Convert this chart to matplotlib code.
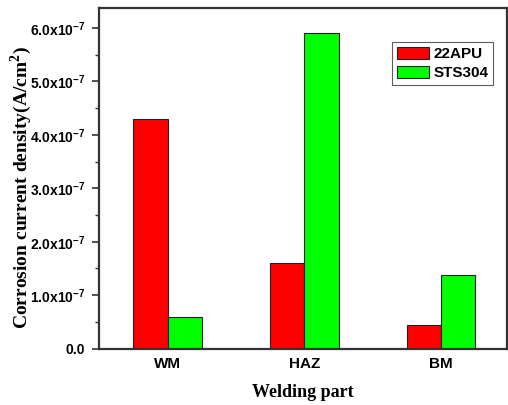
import numpy as np
import matplotlib.pyplot as plt
from matplotlib.ticker import FuncFormatter, MultipleLocator

plt.rcParams["mathtext.fontset"] = "custom"
plt.rcParams["mathtext.rm"] = "Liberation Sans:bold"
plt.rcParams["mathtext.it"] = "Liberation Sans:bold"
plt.rcParams["mathtext.sf"] = "Liberation Sans:bold"
plt.rcParams["mathtext.bf"] = "Liberation Serif:bold"

parts = ["WM", "HAZ", "BM"]
apu22 = [4.3e-7, 1.6e-7, 0.45e-7]
sts304 = [0.6e-7, 5.9e-7, 1.38e-7]

fig = plt.figure(figsize=(5.08, 4.05), dpi=100)
ax = fig.add_axes([0.195, 0.139, 0.803, 0.841])

x = np.arange(len(parts)) + 1
w = 0.25
ax.bar(x - w / 2, apu22, w, color="#ff0000", edgecolor="#222222", linewidth=0.8, label="22APU")
ax.bar(x + w / 2, sts304, w, color="#00ff00", edgecolor="#222222", linewidth=0.8, label="STS304")

ax.set_xlim(0.5, 3.48)
ax.set_ylim(0, 6.37e-7)
ax.set_xticks(x)
ax.set_xticklabels(parts, fontfamily="Liberation Sans", fontweight="bold", fontsize=11)
ax.tick_params(axis="x", length=0, pad=6)

ax.yaxis.set_major_locator(MultipleLocator(1e-7))
ax.yaxis.set_minor_locator(MultipleLocator(0.5e-7))


def fmt(v, pos):
    if abs(v) < 1e-12:
        return "0.0"
    return r"%.1fx10$^{\mathsf{-7}}$" % (v / 1e-7)


ax.yaxis.set_major_formatter(FuncFormatter(fmt))
ax.tick_params(axis="y", which="major", length=5, width=1.2, direction="out", color="#333333", pad=5)
ax.tick_params(axis="y", which="minor", length=3, width=1.0, direction="out", color="#333333")
for lbl in ax.get_yticklabels():
    lbl.set_fontfamily("Liberation Sans")
    lbl.set_fontweight("bold")
    lbl.set_fontsize(10)

for s in ax.spines.values():
    s.set_linewidth(1.6)
    s.set_color("#333333")

ax.set_ylabel(r"Corrosion current density(A/cm$^{\mathbf{2}}$)", fontfamily="Liberation Serif",
              fontweight="bold", fontsize=14)
ax.yaxis.set_label_coords(-0.16, 0.472)
ax.set_xlabel("Welding part", fontfamily="Liberation Serif", fontweight="bold", fontsize=13)
ax.xaxis.set_label_coords(0.5, -0.105)

leg = ax.legend(loc="upper right", bbox_to_anchor=(0.966, 0.9),
                prop={"family": "Liberation Sans", "weight": "bold", "size": 11},
                frameon=True, fancybox=False, handlelength=2.1, handleheight=0.85, handletextpad=0.3,
                borderpad=0.3, labelspacing=0.3, borderaxespad=0)
leg.get_frame().set_edgecolor("#333333")
leg.get_frame().set_linewidth(0.8)

fig.savefig("out.png", dpi=100)
